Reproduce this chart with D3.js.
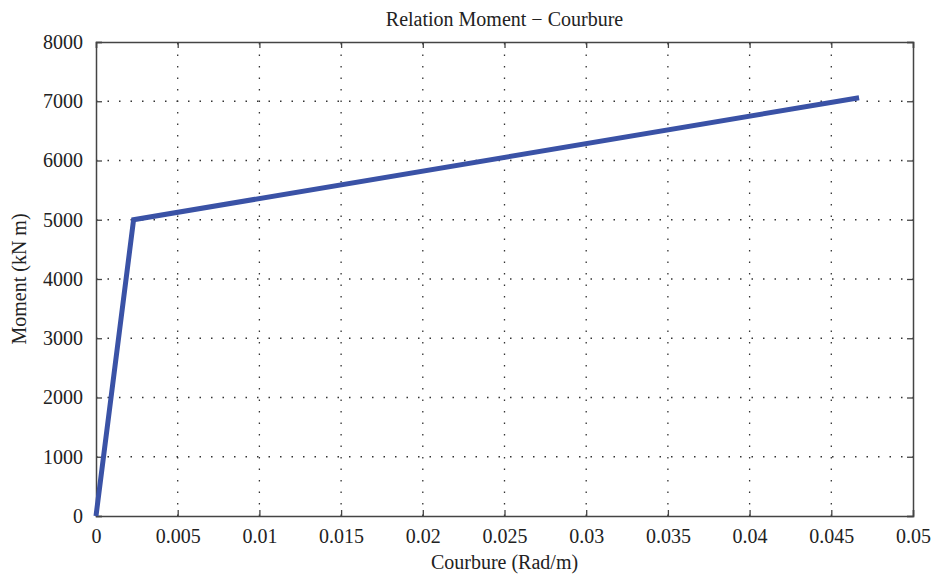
<!DOCTYPE html>
<html>
<head>
<meta charset="utf-8">
<script src="https://cdn.jsdelivr.net/npm/d3@7"></script>
<style>
  html, body { margin: 0; padding: 0; background: #fff; }
  svg { display: block; }
</style>
</head>
<body>
<svg id="chart" width="932" height="577"></svg>
<script>
// Moment–curvature relation (bilinear)
const curvature = [0, 0.0023, 0.0467];
const moment = [0, 5000, 7060];
const xTicks = [0, 0.005, 0.01, 0.015, 0.02, 0.025, 0.03, 0.035, 0.04, 0.045, 0.05];
const yTicks = [0, 1000, 2000, 3000, 4000, 5000, 6000, 7000, 8000];

const FONT = "'Liberation Serif', 'Times New Roman', serif";
const W = 932, H = 577;
const m = { left: 96, right: 19, top: 42, bottom: 61 };
const svg = d3.select("#chart");

const x = d3.scaleLinear().domain([0, 0.05]).range([m.left, W - m.right]);
const y = d3.scaleLinear().domain([0, 8000]).range([H - m.bottom, m.top]);

const x0 = x.range()[0], x1 = x.range()[1];
const y0 = y.range()[0], y1 = y.range()[1];

// Dotted grid
const grid = svg.append("g").attr("stroke", "#333").attr("stroke-width", 1.3)
  .attr("stroke-dasharray", "1.5,10");
grid.selectAll(".gx").data(xTicks.slice(1, -1)).join("line")
  .attr("x1", d => x(d)).attr("x2", d => x(d)).attr("y1", y0).attr("y2", y1);
grid.selectAll(".gy").data(yTicks.slice(1, -1)).join("line")
  .attr("y1", d => y(d)).attr("y2", d => y(d)).attr("x1", x0).attr("x2", x1);

// Axes with inward ticks
const fmtX = d => d === 0 ? "0" : String(+d.toFixed(3));
const axB = svg.append("g").attr("transform", `translate(0,${y0})`)
  .call(d3.axisBottom(x).tickValues(xTicks).tickSize(-6).tickPadding(13).tickFormat(fmtX));
const axT = svg.append("g").attr("transform", `translate(0,${y1})`)
  .call(d3.axisTop(x).tickValues(xTicks).tickSize(-6).tickFormat(""));
const axL = svg.append("g").attr("transform", `translate(${x0},0)`)
  .call(d3.axisLeft(y).tickValues(yTicks).tickSize(-6).tickPadding(13).tickFormat(d3.format("d")));
const axR = svg.append("g").attr("transform", `translate(${x1},0)`)
  .call(d3.axisRight(y).tickValues(yTicks).tickSize(-6).tickFormat(""));

[axB, axT, axL, axR].forEach(g => {
  g.attr("font-family", FONT).attr("font-size", 20);
  g.select(".domain").attr("stroke", "#444").attr("stroke-width", 1.5);
  g.selectAll(".tick line").attr("stroke", "#444").attr("stroke-width", 1.3);
  g.selectAll("text").attr("fill", "#222");
});

// Curve
svg.append("path")
  .datum(curvature.map((c, i) => [c, moment[i]]))
  .attr("fill", "none")
  .attr("stroke", "#3a52a6")
  .attr("stroke-width", 5)
  .attr("stroke-linejoin", "miter")
  .attr("d", d3.line().x(d => x(d[0])).y(d => y(d[1])));

// Titles
const label = (t) => svg.append("text")
  .attr("font-family", FONT).attr("font-size", 20).attr("fill", "#222")
  .attr("text-anchor", "middle").text(t);
label("Relation Moment \u2212 Courbure").attr("x", (x0 + x1) / 2).attr("y", 26);
label("Courbure (Rad/m)").attr("x", (x0 + x1) / 2).attr("y", 569);
label("Moment (kN m)").attr("transform", `translate(26,${(y0 + y1) / 2}) rotate(-90)`);
</script>
</body>
</html>
